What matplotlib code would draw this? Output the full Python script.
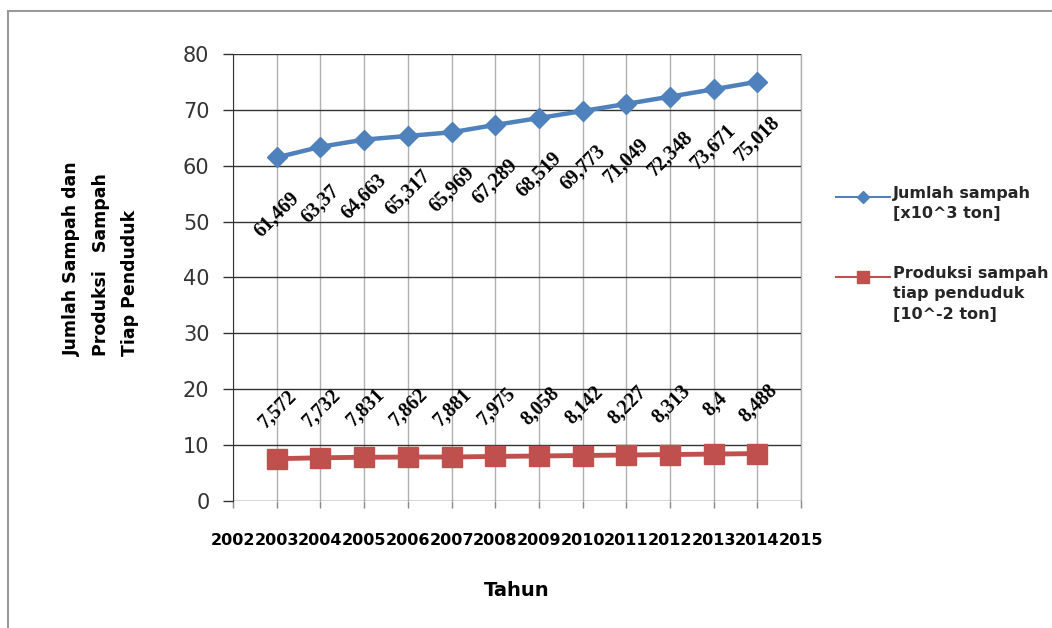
import matplotlib
matplotlib.use('Agg')
import matplotlib.pyplot as plt
from matplotlib.lines import Line2D
from matplotlib.patches import Rectangle

# data
tahun = [2003, 2004, 2005, 2006, 2007, 2008, 2009, 2010, 2011, 2012, 2013, 2014]
jumlah_sampah = [61.469, 63.37, 64.663, 65.317, 65.969, 67.289, 68.519,
                 69.773, 71.049, 72.348, 73.671, 75.018]
produksi_sampah = [7.572, 7.732, 7.831, 7.862, 7.881, 7.975, 8.058,
                   8.142, 8.227, 8.313, 8.4, 8.488]
x_ticks = list(range(2002, 2016))
y_ticks = [0, 10, 20, 30, 40, 50, 60, 70, 80]
label_jumlah = 'Jumlah sampah\n[x10^3 ton]'
label_produksi = 'Produksi sampah\ntiap penduduk\n[10^-2 ton]'

blue = '#4F81BD'
red = '#C0504D'
W, H = 1052, 628

fig = plt.figure(figsize=(W/100, H/100), dpi=100)
ax = fig.add_axes([0.2215, 0.2022, 0.540, 0.712])

# outer frame (only top and left edge visible)
fig.patches.append(Rectangle((8/W, -0.2), 1.2, 0.2 + (1 - 11/H),
                             transform=fig.transFigure, fill=False,
                             edgecolor='#999999', lw=1.5))

ax.plot(tahun, jumlah_sampah, color=blue, lw=3.2, marker='D', ms=10,
        zorder=3, clip_on=False)
ax.plot(tahun, produksi_sampah, color=red, lw=3.5, marker='s', ms=14,
        zorder=3, clip_on=False)

lbl_font = dict(family='Liberation Serif', weight='bold', size=14.5,
                rotation=45, ha='center', va='center', color='black')
for x, y in zip(tahun, jumlah_sampah):
    ax.annotate(str(y).replace('.', ','), (x, y), xytext=(0, -41),
                textcoords='offset points', **lbl_font)
for x, y in zip(tahun, produksi_sampah):
    ax.annotate(str(y).replace('.', ','), (x, y), xytext=(1, 36),
                textcoords='offset points', **lbl_font)

ax.set_xlim(2002, 2015)
ax.set_ylim(0, 80)
ax.set_xticks(x_ticks)
ax.set_xticklabels([str(t) for t in x_ticks], fontweight='bold',
                   fontsize=11.5)
ax.set_yticks(y_ticks)
ax.set_yticklabels([str(t) for t in y_ticks], fontsize=15, color='#333333')
ax.tick_params(axis='y', length=7, width=1, color='#333333', pad=10)
ax.tick_params(axis='x', length=5, width=1, color='#888888', pad=18)

ax.grid(axis='y', color='#333333', lw=1)
ax.grid(axis='x', color='#b0b0b0', lw=1)
ax.axvline(x_ticks[-1], color='#b0b0b0', lw=1, zorder=0.5, clip_on=False)
ax.set_axisbelow(True)
for s in ['top', 'right', 'bottom']:
    ax.spines[s].set_visible(False)
ax.spines['left'].set_color('#333333')

ax.set_xlabel('Tahun', fontsize=14, fontweight='bold', labelpad=24)
fig.text(101/W, 1 - 356/H,
         'Jumlah Sampah dan\nProduksi   Sampah\nTiap Penduduk',
         rotation=90, ha='center', va='bottom', multialignment='left',
         fontsize=12.5, fontweight='bold', linespacing=1.8)

# legend, handle lined up with the first text line
legend_items = [(blue, 'D', 6, label_jumlah, 197),
                (red, 's', 8, label_produksi, 277)]
for color, mk, ms, text, ypx in legend_items:
    yf = 1 - ypx/H
    fig.add_artist(Line2D([836/W, 890/W], [yf, yf], color=color, lw=1.5,
                          transform=fig.transFigure))
    fig.add_artist(Line2D([863/W], [yf], color=color, marker=mk, ms=ms,
                          transform=fig.transFigure))
    fig.text(893/W, 1 - (ypx - 11)/H, text, ha='left', va='top',
             fontsize=11.5, fontweight='bold', color='#262626',
             linespacing=1.45)

fig.savefig('out.png', dpi=100)
